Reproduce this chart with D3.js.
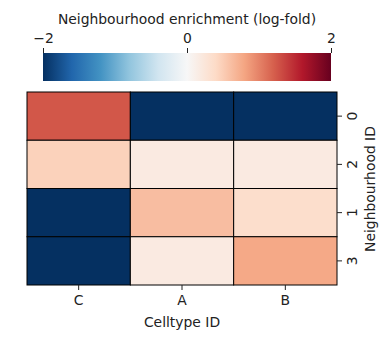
<!DOCTYPE html>
<html><head><meta charset="utf-8">
<script src="https://cdn.jsdelivr.net/npm/d3@7"></script>
<style>body{margin:0;background:#fff}svg{display:block}text{font-family:"DejaVu Sans",sans-serif;fill:#222}</style>
</head><body>
<svg id="c" width="390" height="339"></svg>
<script>
const columns = ["C", "A", "B"];
const rows = ["0", "2", "1", "3"];
const values = [
  [1.25, -2.5, -2.5],
  [0.47, 0.18, 0.18],
  [-2.5, 0.62, 0.36],
  [-2.5, 0.18, 0.77]
];
const colorTicks = [-2, 0, 2];
const colorTickLabels = ["\u22122", "0", "2"];
const rdbu = ["#67001f","#b2182b","#d6604d","#f4a582","#fddbc7","#f7f7f7","#d1e5f0","#92c5de","#4393c3","#2166ac","#053061"].reverse();

const svg = d3.select("#c");
const FS = 13.9;
const vmin = -2, vmax = 2;
const interp = d3.scaleLinear().domain(d3.range(11).map(i => i/10)).range(rdbu).clamp(true);
const color = v => interp((Math.max(vmin, Math.min(vmax, v)) - vmin) / (vmax - vmin));

const x = d3.scaleBand().domain(columns).range([27, 337]);
const y = d3.scaleBand().domain(rows).range([92, 285]);

const cells = [];
rows.forEach((r, i) => columns.forEach((c, j) => cells.push({r, c, v: values[i][j]})));
svg.append("g").selectAll("rect").data(cells).join("rect")
  .attr("x", d => x(d.c)).attr("y", d => y(d.r))
  .attr("width", x.bandwidth()).attr("height", y.bandwidth())
  .attr("fill", d => color(d.v)).attr("stroke", "#000").attr("stroke-width", 1);

// x axis
const xa = svg.append("g").attr("transform", "translate(0,285)")
  .call(d3.axisBottom(x).tickSize(5).tickPadding(5));
xa.select(".domain").remove();
xa.selectAll("text").attr("font-size", FS).style("font-family", "DejaVu Sans").attr("fill", "#222");
xa.selectAll("line").attr("stroke", "#222");
svg.append("text").attr("x", 182).attr("y", 327).attr("text-anchor", "middle").attr("font-size", FS).text("Celltype ID");

// y axis right
const ya = svg.append("g").attr("transform", "translate(337,0)")
  .call(d3.axisRight(y).tickSize(5).tickPadding(5));
ya.select(".domain").remove();
ya.selectAll("line").attr("stroke", "#222");
ya.selectAll("text").attr("font-size", FS).style("font-family", "DejaVu Sans").attr("fill", "#222")
  .attr("x", 0).attr("dy", null).attr("text-anchor", "middle")
  .attr("transform", "translate(15,0) rotate(-90)").attr("dominant-baseline", "central");
svg.append("text").attr("transform", "translate(375,189) rotate(-90)")
  .attr("text-anchor", "middle").attr("font-size", FS).text("Neighbourhood ID");

// colorbar
const cx = d3.scaleLinear().domain([vmin, vmax]).range([43, 331]);
const defs = svg.append("defs");
const grad = defs.append("linearGradient").attr("id", "g").attr("x1", "0%").attr("x2", "100%");
rdbu.forEach((c, i) => grad.append("stop").attr("offset", (i*10) + "%").attr("stop-color", c));
svg.append("rect").attr("x", cx(vmin)).attr("y", 53).attr("width", cx(vmax) - cx(vmin)).attr("height", 28).attr("fill", "url(#g)");
const ca = svg.append("g").attr("transform", "translate(0,53)")
  .call(d3.axisTop(cx).tickValues(colorTicks).tickFormat((d, i) => colorTickLabels[i]).tickSize(5).tickPadding(5));
ca.select(".domain").remove();
ca.selectAll("line").attr("stroke", "#222");
ca.selectAll("text").attr("font-size", FS).style("font-family", "DejaVu Sans").attr("fill", "#222");
svg.append("text").attr("x", 187).attr("y", 24).attr("text-anchor", "middle").attr("font-size", FS).text("Neighbourhood enrichment (log-fold)");
</script>
</body></html>
